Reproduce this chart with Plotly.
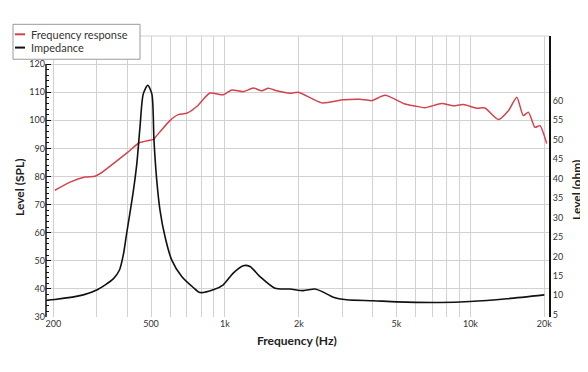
import plotly.graph_objects as go

# ---- data ----
fr_freq = [203, 234, 269, 296, 310, 398, 448, 511, 519, 597, 646, 699, 768, 869, 985,
           1066, 1188, 1306, 1412, 1503, 1626, 1841, 1991, 2478, 3034, 3549, 3962, 4489,
           5418, 5944, 6531, 7638, 8516, 9355, 10612, 11458, 13000, 14300, 15450, 16420,
           17220, 18330, 19190, 20460]
fr_spl = [75.1, 78.0, 79.8, 80.1, 81.0, 88.3, 92.0, 93.2, 93.8, 99.9, 102.0, 102.5, 104.9,
          109.7, 109.1, 110.8, 110.2, 111.5, 110.5, 111.4, 110.5, 109.6, 110.0, 106.2, 107.3,
          107.5, 107.0, 108.9, 105.8, 105.1, 104.5, 106.0, 105.2, 105.6, 104.3, 104.4, 100.3,
          103.5, 108.2, 101.7, 102.9, 97.5, 98.1, 91.7]

imp_freq = [188, 203, 265, 302, 351, 372, 386, 397, 410, 423, 438, 451, 465, 485, 504,
            514, 527, 544, 570, 607, 667, 743, 792, 897, 985, 1081, 1188, 1265, 1390, 1600,
            1841, 2085, 2328, 2478, 2765, 3133, 4019, 5011, 7517, 9955, 14060, 20000]
imp_ohm = [8.7, 8.9, 10.1, 11.4, 14.2, 16.5, 20.5, 25.5, 31.0, 36.5, 44.0, 53.3, 61.8, 64.0,
           61.8, 50.0, 40.0, 31.9, 25.1, 19.1, 14.8, 12.0, 10.7, 11.4, 12.7, 15.7, 17.6, 17.4,
           14.8, 11.8, 11.6, 11.2, 11.6, 11.0, 9.5, 8.85, 8.6, 8.3, 8.15, 8.4, 9.1, 10.1]

x_grid = [200, 300, 400, 500, 600, 700, 800, 900, 1000, 2000, 3000, 4000, 5000,
          6000, 7000, 8000, 9000, 10000, 20000]
x_labels = ["200", "", "", "500", "", "", "", "", "1k", "2k", "", "", "5k",
            "", "", "", "", "10k", "20k"]
spl_ticks = [30, 40, 50, 60, 70, 80, 90, 100, 110, 120]
ohm_ticks = [5, 10, 15, 20, 25, 30, 35, 40, 45, 50, 55, 60]
series_names = ["Frequency response", "Impedance"]
series_colors = ["#d4434d", "#111111"]

# ---- layout geometry (reference pixels; page body adds an 8px offset) ----
OFF = 8
W, H = 588 - OFF, 372 - OFF
L, R, T, B = 46 - OFF, 549 - OFF, 35.7 - OFF, 317.3 - OFF
def px(x):
    return (x - OFF - L) / (R - L)
def py(y):
    return (B - (y - OFF)) / (B - T)

FONT = "Lato"

fig = go.Figure()
fig.add_trace(go.Scatter(x=fr_freq, y=fr_spl, mode="lines", name=series_names[0],
                         line=dict(color=series_colors[0], width=1.5, shape="spline", smoothing=0.6),
                         yaxis="y", showlegend=False))
fig.add_trace(go.Scatter(x=imp_freq, y=imp_ohm, mode="lines", name=series_names[1],
                         line=dict(color=series_colors[1], width=1.6, shape="spline", smoothing=0.7),
                         yaxis="y2", showlegend=False))

fig.update_layout(
    width=W, height=H,
    margin=dict(l=L, r=W - R, t=T, b=H - B),
    paper_bgcolor="white", plot_bgcolor="white",
    font=dict(family=FONT, size=9, color="#333333"),
    xaxis=dict(type="log", range=[2.2713, 4.3201], tickvals=x_grid, ticktext=x_labels,
               showgrid=True, gridcolor="#d2d2d2", gridwidth=1, zeroline=False,
               showline=False, ticks="", tickfont=dict(size=9, color="#333333")),
    yaxis=dict(range=[30, 130], tickvals=spl_ticks, showgrid=True, gridcolor="#d2d2d2",
               gridwidth=1, zeroline=False, showline=False, ticks="inside", ticklen=5,
               tickcolor="#111111", tickwidth=1,
               minor=dict(tickvals=list(range(30, 121, 2)), ticks="inside", ticklen=3,
                          tickcolor="#111111", showgrid=False),
               tickfont=dict(size=9, color="#333333")),
    yaxis2=dict(range=[4.41, 76.68], overlaying="y", side="right", tickvals=ohm_ticks,
                showgrid=False, zeroline=False, showline=True, linecolor="#111111",
                linewidth=2, ticks="", tickfont=dict(size=9, color="#333333")),
)

shapes = []
shapes.append(dict(type="line", xref="paper", yref="paper", x0=0, x1=1, y0=1, y1=1,
                   line=dict(color="#d2d2d2", width=1)))
shapes.append(dict(type="line", xref="paper", yref="y", x0=0, x1=0, y0=30, y1=120,
                   line=dict(color="#111111", width=1.5)))
shapes.append(dict(type="rect", xref="paper", yref="paper", x0=px(13), x1=px(140),
                   y0=py(59), y1=py(24), fillcolor="white",
                   line=dict(color="#9a9a9a", width=1), layer="above"))
leg_rows = [34, 47.3]
for i, yy in enumerate(leg_rows):
    shapes.append(dict(type="line", xref="paper", yref="paper", x0=px(15), x1=px(25),
                       y0=py(yy), y1=py(yy), line=dict(color=series_colors[i], width=2),
                       layer="above"))
fig.update_layout(shapes=shapes)

ann = []
for i, yy in enumerate(leg_rows):
    ann.append(dict(text=series_names[i], xref="paper", yref="paper", x=px(29), y=py(yy),
                    xanchor="left", yanchor="middle", showarrow=False,
                    font=dict(family=FONT, size=11, color="#333333")))
ann.append(dict(text="<b>Frequency (Hz)</b>", xref="paper", yref="paper", x=px(297),
                y=py(341), xanchor="center", yanchor="middle", showarrow=False,
                font=dict(family=FONT, size=12, color="#222222")))
ann.append(dict(text="<b>Level (SPL)</b>", xref="paper", yref="paper", x=px(20),
                y=py(188), xanchor="center", yanchor="middle", showarrow=False, textangle=-90,
                font=dict(family=FONT, size=12, color="#222222")))
ann.append(dict(text="<b>Level (ohm)</b>", xref="paper", yref="paper", x=px(577),
                y=py(190), xanchor="center", yanchor="middle", showarrow=False, textangle=-90,
                font=dict(family=FONT, size=12, color="#222222")))
fig.update_layout(annotations=ann)

fig.write_html("out.html")
